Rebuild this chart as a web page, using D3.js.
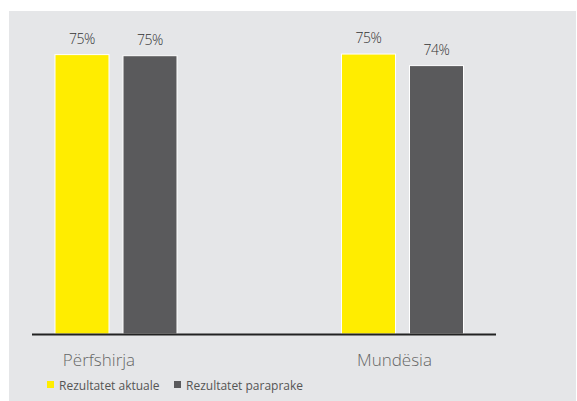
<!DOCTYPE html>
<html>
<head>
<meta charset="utf-8">
<script src="https://cdn.jsdelivr.net/npm/d3@7.9.0/dist/d3.min.js"></script>
<style>
  html, body { margin: 0; padding: 0; background: #fff; }
  svg { display: block; font-family: "Open Sans", "Noto Sans", sans-serif; }
</style>
</head>
<body>
<svg id="chart" width="577" height="401"></svg>
<script>
const categories = ['Përfshirja', 'Mundësia'];
const series = ['Rezultatet aktuale', 'Rezultatet paraprake'];
const colors = ['#ffed00', '#5a5a5c'];
// values per category, in series order
const current = [75.4, 75.45];
const previous = [75.3, 74.4];

const data = categories.map((c, i) => ({
  category: c,
  values: [
    { key: series[0], value: current[i] },
    { key: series[1], value: previous[i] }
  ]
}));

const svg = d3.select('#chart');

svg.append('rect')
  .attr('x', 9).attr('y', 11)
  .attr('width', 567).attr('height', 390)
  .attr('fill', '#e5e6e8');

const baseline = 334;

const y = d3.scaleLinear().domain([50, 80]).range([baseline, 4]);

const x0 = d3.scalePoint()
  .domain(categories)
  .range([116, 402.5]);

const x1 = d3.scaleBand()
  .domain(series)
  .range([-61, 61])
  .paddingInner(0.206);

const color = d3.scaleOrdinal().domain(series).range(colors);

const groups = svg.selectAll('g.group')
  .data(data)
  .enter()
  .append('g')
    .attr('class', 'group')
    .attr('transform', d => `translate(${x0(d.category)},0)`);

groups.selectAll('rect')
  .data(d => d.values)
  .enter()
  .append('rect')
    .attr('x', d => x1(d.key))
    .attr('y', d => y(d.value))
    .attr('width', x1.bandwidth())
    .attr('height', d => baseline - y(d.value))
    .attr('fill', d => color(d.key))
    .attr('stroke', '#fff')
    .attr('stroke-width', 1);

groups.selectAll('text.val')
  .data(d => d.values)
  .enter()
  .append('text')
    .attr('class', 'val')
    .attr('x', d => x1(d.key) + x1.bandwidth() / 2)
    .attr('y', d => y(d.value) - 11)
    .attr('text-anchor', 'middle')
    .attr('font-size', 14)
    .attr('font-weight', 300)
    .attr('fill', '#333')
    .attr('letter-spacing', '-0.5')
    .text(d => Math.round(d.value) + '%');

// axis line
svg.append('line')
  .attr('x1', 32).attr('x2', 496)
  .attr('y1', baseline + 0.5).attr('y2', baseline + 0.5)
  .attr('stroke', '#222')
  .attr('stroke-width', 2);

// category labels
svg.selectAll('text.cat')
  .data(categories)
  .enter()
  .append('text')
    .attr('class', 'cat')
    .attr('x', (d, i) => x0(d) - (i === 0 ? 17 : 8))
    .attr('y', 366)
    .attr('text-anchor', 'middle')
    .attr('font-size', 17)
    .attr('font-weight', 300)
    .attr('fill', '#666')
    .text(d => d);

// legend
const legendX = [47, 174];
const legend = svg.selectAll('g.legend')
  .data(series)
  .enter()
  .append('g')
    .attr('class', 'legend')
    .attr('transform', (d, i) => `translate(${legendX[i]},381)`);

legend.append('rect')
  .attr('width', 7).attr('height', 7)
  .attr('fill', d => color(d));

legend.append('text')
  .attr('x', 12)
  .attr('y', 8.5)
  .attr('font-size', 12)
  .attr('fill', '#555')
  .text(d => d);
</script>
</body>
</html>
